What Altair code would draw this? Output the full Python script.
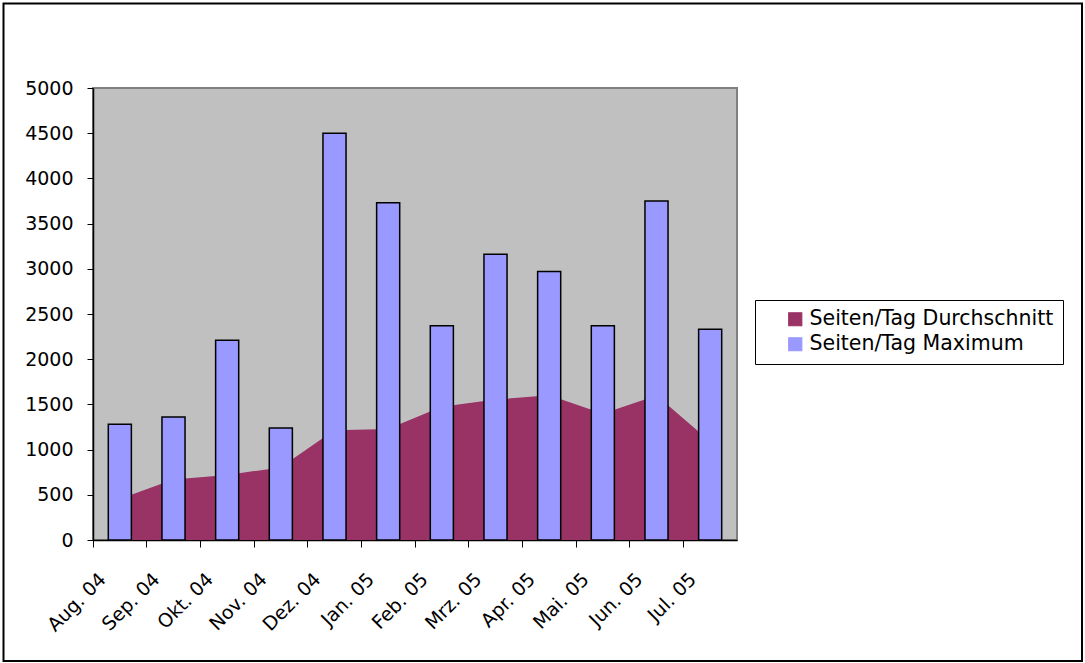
import altair as alt
import pandas as pd

months = ["Aug. 04", "Sep. 04", "Okt. 04", "Nov. 04", "Dez. 04", "Jan. 05",
          "Feb. 05", "Mrz. 05", "Apr. 05", "Mai. 05", "Jun. 05", "Jul. 05"]
avg_vals = [445, 660, 712, 795, 1206, 1220, 1465, 1545, 1593, 1388, 1590, 1078]
max_vals = [1280, 1360, 2210, 1240, 4500, 3730, 2370, 3160, 2970, 2370, 3750, 2330]
series = ["Seiten/Tag Durchschnitt", "Seiten/Tag Maximum"]
colors = ["#993366", "#9999FF"]

df_avg = pd.DataFrame({"Monat": months, "Wert": avg_vals, "Serie": series[0]})
df_max = pd.DataFrame({"Monat": months, "Wert": max_vals, "Serie": series[1]})

x = alt.X("Monat:N", sort=months, title=None,
          scale=alt.Scale(paddingInner=0, paddingOuter=0),
          axis=alt.Axis(bandPosition=0, labelAngle=315, labelAlign="right",
                        labelBaseline="middle", labelOffset=-17, labelPadding=29,
                        tickSize=7, labelFontSize=19, domainColor="black",
                        tickColor="black", domainWidth=1.5, labelColor="black"))
y = alt.Y("Wert:Q", title=None,
          scale=alt.Scale(domain=[0, 5000], nice=False),
          axis=alt.Axis(values=list(range(0, 5001, 500)), format="d", tickSize=6,
                        labelPadding=14, labelFontSize=19, grid=False,
                        domainColor="black", tickColor="black", domainWidth=1.5,
                        labelColor="black"))
color = alt.Color("Serie:N", scale=alt.Scale(domain=series, range=colors),
                  legend=alt.Legend(title=None, orient="none", legendX=662, legendY=212,
                                    fillColor="white", strokeColor="black",
                                    padding=9, symbolOffset=21, symbolType="square",
                                    symbolSize=170, symbolStrokeColor="black",
                                    symbolStrokeWidth=1.2, labelFontSize=20.5,
                                    labelOffset=4, rowPadding=4, labelColor="black",
                                    labelLimit=400))

area = alt.Chart(df_avg).mark_area(
    opacity=1, line={"color": "black", "strokeWidth": 1.5}
).encode(x=x, y=y, color=color)

bars = alt.Chart(df_max).mark_bar(
    width=alt.RelativeBandSize(0.43), stroke="black", strokeWidth=1.5, opacity=1
).encode(x=x, y=y, color=color)

frame = alt.Chart(pd.DataFrame({"k": [0]})).mark_rect(
    fill="transparent", stroke="black", strokeWidth=2
).encode(x=alt.value(-89.5), x2=alt.value(989), y=alt.value(-84.5), y2=alt.value(573))

chart = alt.layer(area, bars, frame).properties(
    width=644, height=452,
    padding={"left": 93, "top": 88, "right": 348, "bottom": 123},
    autosize=alt.AutoSizeParams(type="none"),
    background="white",
).configure(font="DejaVu Sans").configure_view(
    fill="#C0C0C0", stroke="#808080", strokeWidth=2
)

chart.save("out.html", embed_options={"renderer": "svg", "actions": False})
